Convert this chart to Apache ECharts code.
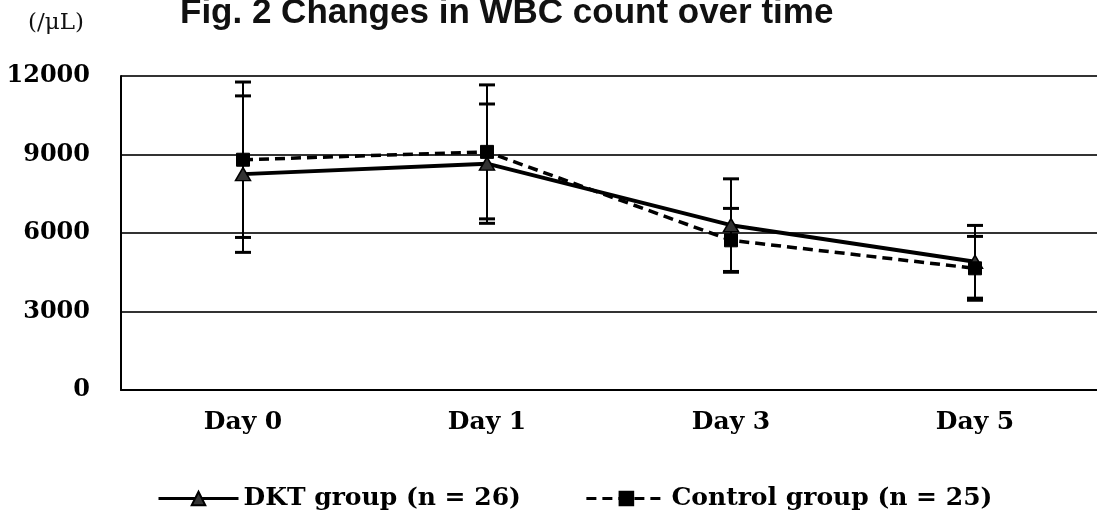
<!DOCTYPE html>
<html>
<head>
<meta charset="utf-8">
<script src="https://cdn.jsdelivr.net/npm/echarts@6/dist/echarts.min.js"></script>
<style>
html,body{margin:0;padding:0;background:#fff;}
#chart{width:1097px;height:528px;}
</style>
</head>
<body>
<div id="chart"></div>
<script>
const categories = ['Day 0', 'Day 1', 'Day 3', 'Day 5'];
const dktMean = [8250, 8650, 6300, 4900];
const dktSD = [2990, 2280, 1770, 1390];
const ctrlMean = [8800, 9100, 5720, 4650];
const ctrlSD = [2970, 2560, 1220, 1220];
const yMin = 0, yMax = 12000, yStep = 3000;
const titleText = 'Fig. 2 Changes in WBC count over time';
const unitText = '(/\u03bcL)';
const dktName = 'DKT group (n = 26)';
const ctrlName = 'Control group (n = 25)';

const chart = echarts.init(document.getElementById('chart'));

function errData(mean, sd) {
  return categories.map((c, i) => [i, mean[i] - sd[i], mean[i] + sd[i]]);
}
function errRender(params, api) {
  const x = api.value(0);
  const top = api.coord([x, api.value(2)]);
  const bot = api.coord([x, api.value(1)]);
  const hw = 8;
  const st = { stroke: '#000', lineWidth: 2 };
  const cap = { stroke: '#000', lineWidth: 3 };
  return {
    type: 'group',
    children: [
      { type: 'line', shape: { x1: top[0], y1: top[1], x2: bot[0], y2: bot[1] }, style: st },
      { type: 'line', shape: { x1: top[0] - hw, y1: top[1], x2: top[0] + hw, y2: top[1] }, style: cap },
      { type: 'line', shape: { x1: bot[0] - hw, y1: bot[1], x2: bot[0] + hw, y2: bot[1] }, style: cap }
    ]
  };
}

const serif = 'DejaVu Serif';

chart.setOption({
  backgroundColor: '#fff',
  animation: false,
  title: {
    text: titleText,
    left: 180,
    top: -4,
    padding: 0,
    textStyle: { fontFamily: 'Liberation Sans', fontWeight: 'bold', fontSize: 35, color: '#111' }
  },
  graphic: [
    {
      type: 'text', left: 28, top: 12,
      style: { text: unitText, font: '23px "DejaVu Serif"', fill: '#111' }
    }
  ],
  legend: {
    left: 152,
    top: 481,
    itemWidth: 80,
    itemHeight: 17,
    itemGap: 64,
    lineStyle: { width: 3 },
    textStyle: { fontFamily: serif, fontWeight: 'bold', fontSize: 25, color: '#000' },
    data: [dktName, ctrlName]
  },
  grid: { left: 121, right: -6, top: 76, bottom: 138 },
  xAxis: {
    type: 'category',
    data: categories,
    boundaryGap: true,
    axisTick: { show: false },
    axisLine: { show: true, lineStyle: { color: '#000', width: 2 } },
    axisLabel: { margin: 20, fontFamily: serif, fontWeight: 'bold', fontSize: 25, color: '#000' }
  },
  yAxis: {
    type: 'value',
    min: yMin, max: yMax, interval: yStep,
    axisLine: { show: true, lineStyle: { color: '#000', width: 2 } },
    axisTick: { show: false },
    splitLine: { show: true, lineStyle: { color: '#333', width: 2 } },
    axisLabel: { margin: 31, fontFamily: serif, fontWeight: 'bold', fontSize: 24, color: '#000', formatter: v => String(v) }
  },
  series: [
    {
      name: 'dktErr', type: 'custom', renderItem: errRender,
      data: errData(dktMean, dktSD), encode: { x: 0, y: [1, 2] }, z: 1, silent: true
    },
    {
      name: 'ctrlErr', type: 'custom', renderItem: errRender,
      data: errData(ctrlMean, ctrlSD), encode: { x: 0, y: [1, 2] }, z: 1, silent: true
    },
    {
      name: dktName, type: 'line', data: dktMean,
      symbol: 'triangle', symbolSize: [15, 13],
      lineStyle: { color: '#000', width: 4 },
      itemStyle: { color: '#333', borderColor: '#000', borderWidth: 1.5 },
      z: 3
    },
    {
      name: ctrlName, type: 'line', data: ctrlMean,
      symbol: 'rect', symbolSize: 13,
      lineStyle: { color: '#000', width: 3.5, type: [10, 6] },
      itemStyle: { color: '#000', borderColor: '#000', borderWidth: 1 },
      z: 4
    }
  ]
});
</script>
</body>
</html>
